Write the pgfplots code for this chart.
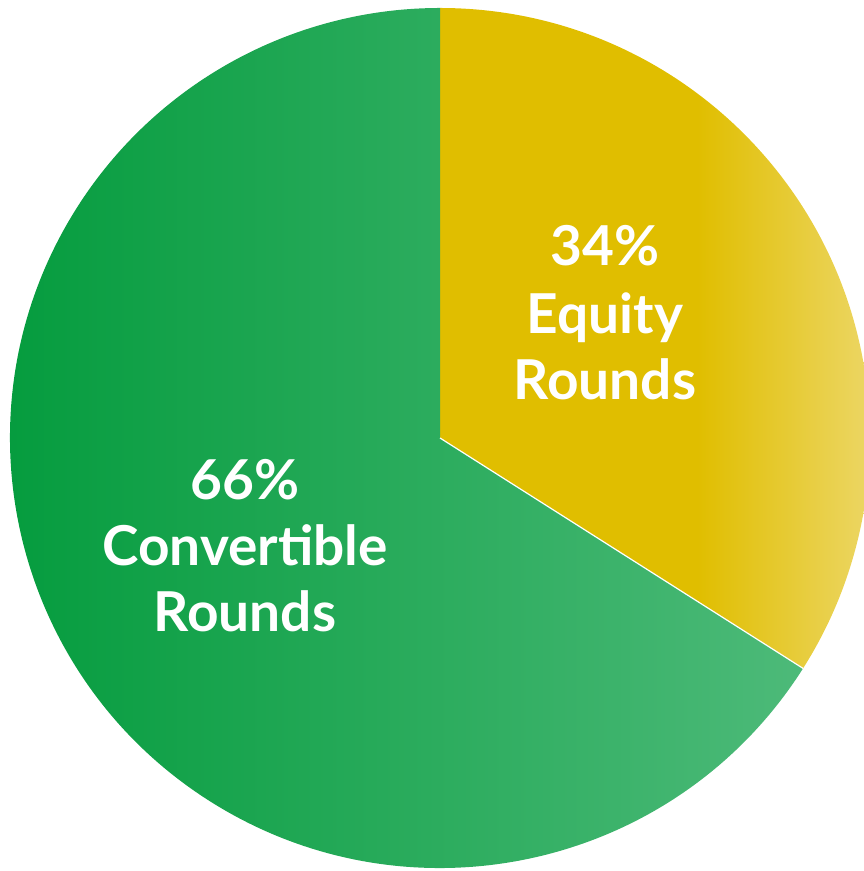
\documentclass[border=0pt]{standalone}
\usepackage{fontspec}
\setmainfont{Lato}
\usepackage{pgfplots}
\usepackage{pgfplotstable}
\pgfplotsset{compat=1.18}

\definecolor{eqdark}{HTML}{E0BE00}
\definecolor{eqlight}{HTML}{ECD664}
\definecolor{cvdark}{HTML}{009A3A}
\definecolor{cvlight}{HTML}{4DBA79}

% yellow stays flat over most of the slice, then lightens near the rim
\pgfdeclarehorizontalshading{eqshade}{100bp}{color(0bp)=(eqdark); color(25bp)=(eqdark); color(55bp)=(eqdark); color(75bp)=(eqlight); color(100bp)=(eqlight)}
\pgfdeclarehorizontalshading{cvshade}{100bp}{color(0bp)=(cvdark); color(25bp)=(cvdark); color(75bp)=(cvlight); color(100bp)=(cvlight)}

\pgfplotstableread{
label value
Equity 34
Convertible 66
}\pie

\begin{document}
\begin{tikzpicture}
\pgfplotstablegetelem{0}{value}\of\pie \let\eq\pgfplotsretval
\pgfplotstablegetelem{1}{value}\of\pie \let\cv\pgfplotsretval
\pgfmathsetmacro\split{90-3.6*\eq}
\pgfmathsetmacro\splitx{440+430*cos(\split)}
\pgfmathsetmacro\splity{433+430*sin(\split)}
\begin{axis}[
    name=pie,
    width=864bp, height=871bp,
    scale only axis,
    xmin=0, xmax=864,
    ymin=0, ymax=871,
    hide axis,
]
% equity slice, clockwise from the top
\shade[shading=eqshade] (axis cs:440,433) -- (axis cs:440,863)
    arc[start angle=90, end angle=\split, radius=430bp] -- cycle;
% convertible slice, the rest of the circle
\shade[shading=cvshade] (axis cs:440,433) -- (axis cs:\splitx,\splity)
    arc[start angle=\split, end angle=-270, radius=430bp] -- cycle;
\draw[white, line width=1.2bp] (axis cs:440,433) -- (axis cs:\splitx,\splity);

\tikzset{lbl/.style={text=white, font=\bfseries\fontsize{55bp}{67bp}\selectfont, anchor=base, inner sep=0pt}}
\node[lbl] at (axis cs:605,605) {\eq\%};
\node[lbl] at (axis cs:605,537) {Equity};
\node[lbl] at (axis cs:605,471) {Rounds};
\node[lbl] at (axis cs:245,371) {\cv\%};
\node[lbl] at (axis cs:245,305) {Convertible};
\node[lbl] at (axis cs:245,239) {Rounds};
\end{axis}
% the circle runs past the right edge; keep the page to the axis box
\pgfresetboundingbox
\path[use as bounding box] (pie.south west) rectangle (pie.north east);
\end{tikzpicture}
\end{document}
